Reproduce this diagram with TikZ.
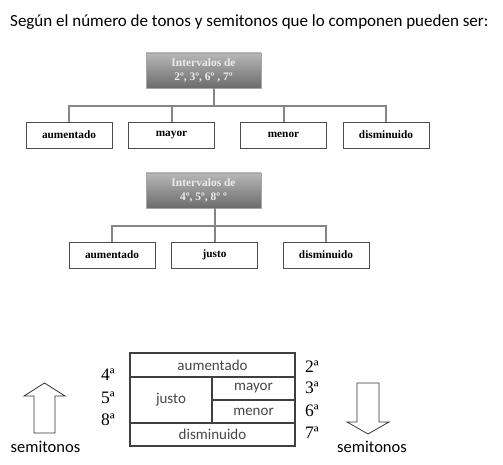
\documentclass[tikz,border=0pt]{standalone}
\usepackage{fontspec}
\setmainfont{Carlito}
\newfontfamily\serifb{Liberation Serif}
\usetikzlibrary{shadows}
\begin{document}
\begin{tikzpicture}[x=1pt,y=-1pt,
  headbox/.style={draw=black!35, top color=black!28, bottom color=black!58, text=white!92!black,
     minimum width=115pt, minimum height=35pt, inner sep=1pt, align=center,
     font=\serifb\bfseries\fontsize{11.5}{13.5}\selectfont,
     drop shadow={opacity=0.3, shadow xshift=1.2pt, shadow yshift=-1.2pt}},
  leafbox/.style={draw=black!70, line width=0.8pt, fill=white, minimum width=86pt, minimum height=26pt,
     inner sep=0pt, font=\serifb\bfseries\fontsize{11.3}{13}\selectfont},
  conn/.style={draw=black!48, line width=2pt},
  cell/.style={draw=black!75, line width=1.4pt, inner sep=0pt, text=black!72,
     font=\fontsize{15}{17}\selectfont},
  ord/.style={font=\serifb\fontsize{17.5}{19}\selectfont, inner sep=0pt},
  sarrow/.style={draw=black!80, line width=0.8pt, fill=white},
  lab/.style={font=\fontsize{16.5}{18}\selectfont, inner sep=0pt}
]
\useasboundingbox[fill=white] (0,0) rectangle (503,465);

\node[lab, font=\fontsize{17}{19}\selectfont, anchor=west] (title) at (10,22) {Según el número de tonos y semitonos que lo componen pueden ser:};

% group 1
\node[headbox] (h1) at (203.5,70.5) {Intervalos de\\2º, 3º, 6º , 7º};
\node[leafbox] (a1) at (69,135) {aumentado};
\node[leafbox] (a2) at (171.5,135) {mayor};
\node[leafbox] (a3) at (283.5,135) {menor};
\node[leafbox] (a4) at (386,135) {disminuido};
\coordinate (j1) at (214,106);
\draw[conn] (h1.south -| j1) -- (j1);
\draw[conn] (a1.north) |- (j1) -| (a4.north);
\draw[conn] (a2.north) -- (a2.north |- j1);
\draw[conn] (a3.north) -- (a3.north |- j1);

% group 2
\node[headbox] (h2) at (203.5,190.5) {Intervalos de\\4º, 5º, 8º º};
\node[leafbox] (c1) at (112,255) {aumentado};
\node[leafbox] (c2) at (214.5,255) {justo};
\node[leafbox] (c3) at (326,255) {disminuido};
\coordinate (j2) at (214.5,225.5);
\draw[conn] (h2.south -| j2) -- (j2);
\draw[conn] (c1.north) |- (j2) -| (c3.north);
\draw[conn] (c2.north) -- (j2);

% table
\node[cell, minimum width=165pt, minimum height=24pt] (tau) at (212.5,365) {aumentado};
\node[cell, minimum width=82pt, minimum height=46pt] (tju) at (171,400) {\raisebox{-3pt}{justo}};
\node[cell, minimum width=83pt, minimum height=23pt] (tma) at (253.5,388.5) {mayor};
\node[cell, minimum width=83pt, minimum height=23pt] (tme) at (253.5,411.5) {menor};
\node[cell, minimum width=165pt, minimum height=23pt] (tdi) at (212.5,434.5) {disminuido};

% ordinals
\node[ord] (o4) at (108,375) {4ª};
\node[ord] (o5) at (108,398) {5ª};
\node[ord] (o8) at (108,420) {8ª};
\node[ord] (o2) at (312,367) {2ª};
\node[ord] (o3) at (312,388) {3ª};
\node[ord] (o6) at (312,411) {6ª};
\node[ord] (o7) at (312,433) {7ª};

% arrows
\draw[sarrow] (34,433) -- (34,396) -- (24,396) -- (44.5,383) -- (65,396) -- (55,396) -- (55,433) -- cycle;
\draw[sarrow] (357,383) -- (379,383) -- (379,422) -- (389,422) -- (368,434) -- (347,422) -- (357,422) -- cycle;
\node[lab] (s1) at (45.5,447) {semitonos};
\node[lab] (s2) at (372,447) {semitonos};
\end{tikzpicture}
\end{document}
